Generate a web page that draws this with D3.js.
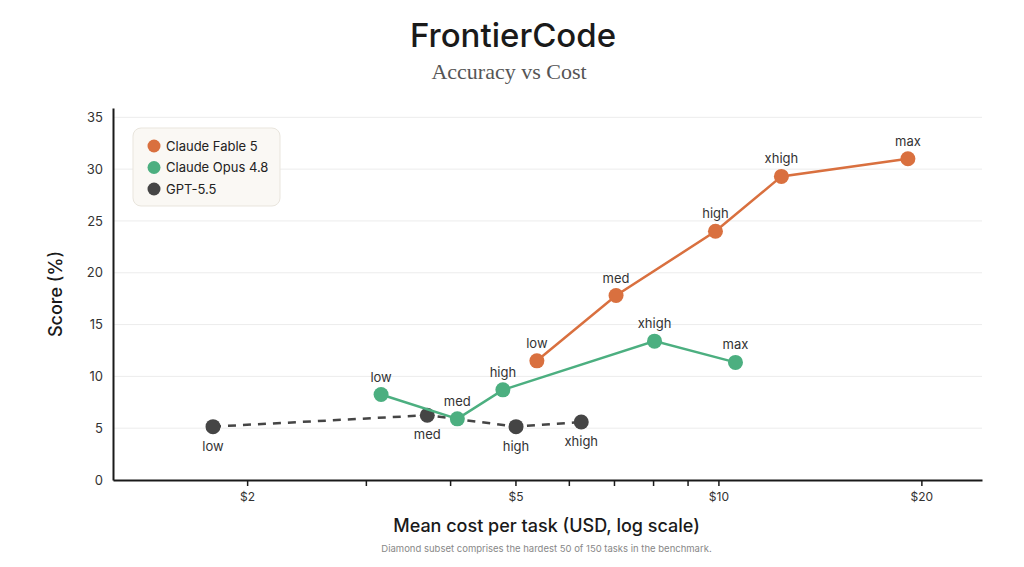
<!DOCTYPE html>
<html>
<head>
<meta charset="utf-8">
<script src="https://cdn.jsdelivr.net/npm/d3@7"></script>
<style>
  body { margin: 0; background: #fff; }
  svg { display: block; font-family: Inter, "Noto Sans", sans-serif; }
</style>
</head>
<body>
<div id="chart"></div>
<script>
// Series data
const seriesNames = ["Claude Fable 5", "Claude Opus 4.8", "GPT-5.5"];
const seriesColors = ["#d9703f", "#4caf80", "#454545"];

const fableLevels = ["low", "med", "high", "xhigh", "max"];
const fableCost = [5.38, 7.05, 9.9, 12.4, 19.1];
const fableScore = [11.5, 17.8, 24.0, 29.3, 31.0];

const opusLevels = ["low", "med", "high", "xhigh", "max"];
const opusCost = [3.16, 4.10, 4.79, 8.04, 10.6];
const opusScore = [8.25, 5.9, 8.7, 13.4, 11.35];

const gptLevels = ["low", "med", "high", "xhigh"];
const gptCost = [1.78, 3.70, 5.01, 6.26];
const gptScore = [5.15, 6.25, 5.15, 5.6];

const yTicks = [0, 5, 10, 15, 20, 25, 30, 35];
const xTicks = [2, 3, 4, 5, 6, 7, 8, 9, 10, 20];
const xTickLabels = [2, 5, 10, 20];

const series = [
  { name: seriesNames[0], color: seriesColors[0], dashed: false, labelBelow: false,
    points: fableLevels.map((l, i) => ({ level: l, cost: fableCost[i], score: fableScore[i] })) },
  { name: seriesNames[1], color: seriesColors[1], dashed: false, labelBelow: false,
    points: opusLevels.map((l, i) => ({ level: l, cost: opusCost[i], score: opusScore[i] })) },
  { name: seriesNames[2], color: seriesColors[2], dashed: true, labelBelow: true,
    points: gptLevels.map((l, i) => ({ level: l, cost: gptCost[i], score: gptScore[i] })) }
];

const W = 1024, H = 567;
const margin = { top: 108, right: 42, bottom: 87, left: 113 };
const width = W - margin.left - margin.right;
const height = H - margin.top - margin.bottom;

const svg = d3.select("#chart").append("svg")
  .attr("width", W)
  .attr("height", H);

// Title and subtitle
svg.append("text")
  .attr("x", W / 2 + 1).attr("y", 47)
  .attr("text-anchor", "middle")
  .style("font-size", "33px")
  .style("font-weight", 500)
  .style("fill", "#1a1a1a")
  .text("FrontierCode");

svg.append("text")
  .attr("x", W / 2 - 3).attr("y", 79)
  .attr("text-anchor", "middle")
  .style("font-family", "'Liberation Serif', 'DejaVu Serif', serif")
  .style("font-size", "22px")
  .style("fill", "#555")
  .text("Accuracy vs Cost");

const g = svg.append("g")
  .attr("transform", `translate(${margin.left},${margin.top})`);

// Scales
const x = d3.scaleLog()
  .domain([1.265, 24.6])
  .range([0, width]);

const y = d3.scaleLinear()
  .domain([0, 35.9])
  .range([height, 0]);

// Horizontal grid
g.selectAll("line.grid")
  .data(yTicks.filter(d => d > 0))
  .enter()
  .append("line")
  .attr("class", "grid")
  .attr("x1", 0).attr("x2", width)
  .attr("y1", d => y(d)).attr("y2", d => y(d))
  .attr("stroke", "#ececec")
  .attr("stroke-width", 1);

// Y axis
const yAxis = g.append("g")
  .call(d3.axisLeft(y).tickValues(yTicks).tickSize(0).tickPadding(10));
yAxis.select(".domain").attr("stroke", "#1a1a1a").attr("stroke-width", 2);
yAxis.selectAll("text")
  .style("font-family", "Inter, 'Noto Sans', sans-serif")
  .style("font-size", "13px")
  .style("fill", "#333");

// X axis
const xAxis = g.append("g")
  .attr("transform", `translate(0,${height})`)
  .call(d3.axisBottom(x)
    .tickValues(xTicks)
    .tickSize(6)
    .tickSizeOuter(0)
    .tickPadding(6)
    .tickFormat(d => xTickLabels.includes(d) ? "$" + d : ""));
xAxis.select(".domain").attr("stroke", "#1a1a1a").attr("stroke-width", 2);
xAxis.selectAll(".tick line").attr("stroke", "#1a1a1a").attr("stroke-width", 1.5);
xAxis.selectAll("text")
  .style("font-family", "Inter, 'Noto Sans', sans-serif")
  .style("font-size", "12px")
  .style("fill", "#333");

// Axis labels
svg.append("text")
  .attr("text-anchor", "middle")
  .attr("transform", `translate(62,${margin.top + height / 2}) rotate(-90)`)
  .style("font-size", "18px")
  .style("font-weight", 500)
  .style("fill", "#1a1a1a")
  .text("Score (%)");

svg.append("text")
  .attr("x", margin.left + width / 2 - 1).attr("y", 532)
  .attr("text-anchor", "middle")
  .style("font-size", "18px")
  .style("font-weight", 500)
  .style("fill", "#1a1a1a")
  .text("Mean cost per task (USD, log scale)");

svg.append("text")
  .attr("x", margin.left + width / 2 - 1).attr("y", 552)
  .attr("text-anchor", "middle")
  .style("font-size", "9.5px")
  .style("fill", "#888")
  .text("Diamond subset comprises the hardest 50 of 150 tasks in the benchmark.");

// Lines
const line = d3.line()
  .x(d => x(d.cost))
  .y(d => y(d.score));

series.slice().reverse().forEach(s => {
  g.append("path")
    .datum(s.points)
    .attr("fill", "none")
    .attr("stroke", s.color)
    .attr("stroke-width", 2.5)
    .attr("stroke-dasharray", s.dashed ? "8,7" : null)
    .attr("d", line);

  g.selectAll(null)
    .data(s.points)
    .enter()
    .append("circle")
    .attr("cx", d => x(d.cost))
    .attr("cy", d => y(d.score))
    .attr("r", 7.5)
    .attr("fill", s.color);

  g.selectAll(null)
    .data(s.points)
    .enter()
    .append("text")
    .attr("x", d => x(d.cost))
    .attr("y", d => y(d.score) + (s.labelBelow ? 24 : -13))
    .attr("text-anchor", "middle")
    .style("font-size", "13px")
    .style("fill", "#333")
    .text(d => d.level);
});

// Legend
const legend = svg.append("g")
  .attr("transform", "translate(133,128)");

legend.append("rect")
  .attr("width", 147).attr("height", 78)
  .attr("rx", 8)
  .attr("fill", "#faf8f4")
  .attr("stroke", "#e9e5dd");

series.forEach((s, i) => {
  legend.append("circle")
    .attr("cx", 21).attr("cy", 18 + i * 21.5)
    .attr("r", 6.5)
    .attr("fill", s.color);
  legend.append("text")
    .attr("x", 33).attr("y", 18 + i * 21.5 + 4.5)
    .style("font-size", "13px")
    .style("fill", "#222")
    .text(s.name);
});
</script>
</body>
</html>
